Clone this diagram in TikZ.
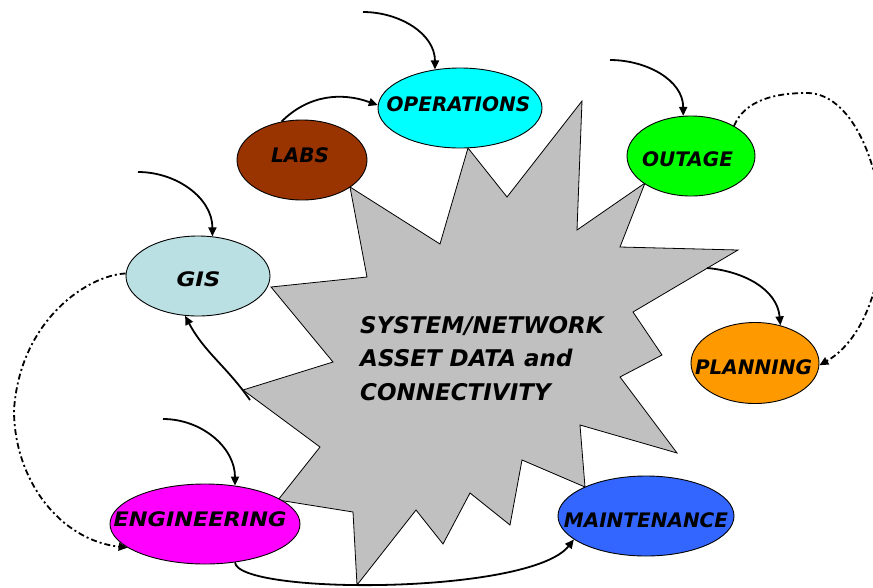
\documentclass[tikz,border=0pt]{standalone}
\usepackage{fontspec}
\setmainfont{DejaVu Sans}
\usetikzlibrary{shapes.geometric,arrows.meta}

\definecolor{opsfill}{HTML}{00FFFF}
\definecolor{labsfill}{HTML}{993300}
\definecolor{outfill}{HTML}{00FF00}
\definecolor{gisfill}{HTML}{BBE0E3}
\definecolor{planfill}{HTML}{FF9900}
\definecolor{engfill}{HTML}{FF00FF}
\definecolor{maintfill}{HTML}{3366FF}
\definecolor{corefill}{HTML}{C0C0C0}

\begin{document}
\begin{tikzpicture}[x=1pt,y=1pt,
  bubble/.style={ellipse,draw=black,line width=0.9pt,inner sep=0pt},
  lbl/.style={font=\fontsize{20}{24}\selectfont\bfseries\itshape,
              inner sep=0pt,text height=14.6pt,text depth=0pt},
  feed/.style={line width=1.8pt,-{Triangle[length=9pt,width=8pt]}},
  dashdot/.style={feed,dash pattern=on 6pt off 3pt on 2pt off 3pt}]

\useasboundingbox (0,0) rectangle (873,-587);

% central starburst
\draw[fill=corefill,line width=0.8pt]
  (350,-187) -- (440,-244) -- (468,-148) -- (507,-197) -- (582,-101)
  -- (577,-230) -- (645,-183) -- (620,-247) -- (738,-250) -- (633,-312)
  -- (662,-355) -- (620,-377) -- (677,-453) -- (580,-425) -- (585,-487)
  -- (522,-460) -- (510,-525) -- (470,-493) -- (443,-544) -- (416,-510)
  -- (357,-585) -- (353,-512) -- (278,-500) -- (320,-447) -- (243,-390)
  -- (333,-362) -- (271,-287) -- (367,-277) -- cycle;
\node[anchor=north west,align=left,inner sep=0pt,
      font=\fontsize{23}{33.5}\selectfont\bfseries\itshape] (core)
  at (360,-316) {SYSTEM/NETWORK\\ASSET DATA and\\CONNECTIVITY};

\coordinate (starGIS) at (250,-400);
\coordinate (starPlan) at (707,-268);

% department ellipses
\node[bubble,fill=opsfill,minimum width=164,minimum height=80] (ops) at (460,-108) {};
\node[bubble,fill=labsfill,minimum width=130,minimum height=80] (labs) at (302,-160) {};
\node[bubble,fill=outfill,minimum width=128,minimum height=80] (outage) at (691,-156) {};
\node[bubble,fill=gisfill,minimum width=144,minimum height=80] (gis) at (198,-276) {};
\node[bubble,fill=planfill,minimum width=128,minimum height=81] (plan) at (755,-363) {};
\node[bubble,fill=engfill,minimum width=190,minimum height=80] (eng) at (205,-524) {};
\node[bubble,fill=maintfill,minimum width=176,minimum height=80] (maint) at (646,-516) {};

\node[lbl] (opsT) at (458.5,-104) {OPERATIONS};
\node[lbl] (labsT) at (300,-155) {LABS};
\node[lbl] (outT) at (687.5,-159.5) {OUTAGE};
\node[lbl] (gisT) at (198.5,-279) {\scalebox{1.15}[1]{GIS}};
\node[lbl] (planT) at (753.5,-367) {PLANNING};
\node[lbl] (engT) at (200,-519) {\scalebox{1.12}[1]{ENGINEERING}};
\node[lbl] (maintT) at (646,-520) {MAINTENANCE};

% incoming feeds
\coordinate (srcOps) at (363,-12);
\coordinate (srcOut) at (610,-60);
\coordinate (srcGis) at (138,-172);
\coordinate (srcEng) at (163,-419);

\draw[feed] (srcOps) to[out=0,in=90] (ops.123);
\draw[feed] (srcOut) to[out=0,in=90] (outage.101);
\draw[feed] (srcGis) to[out=0,in=90] (gis.70);
\draw[feed] (srcEng) to[out=0,in=90] (eng.52);

% links between departments
\draw[feed] (labs.118) to[out=45,in=160] (ops.178);
\draw[feed] (starGIS) to[out=125,in=-62] (gis.252);
\draw[feed] (starPlan) to[out=-5,in=95] (plan.56);
\draw[feed] (eng.308) .. controls (238,-595) and (530,-595) .. (maint.198);

\draw[dashdot] (gis.178) .. controls (88,-275) and (20,-320) .. (14,-410)
  .. controls (14,-480) and (60,-540) .. (eng.197);
\draw[dashdot] (outage.35) .. controls (745,-100) and (775,-93) .. (807,-93)
  .. controls (850,-93) and (880,-160) .. (882,-228)
  .. controls (882,-300) and (855,-345) .. (plan.-2);

\end{tikzpicture}
\end{document}
